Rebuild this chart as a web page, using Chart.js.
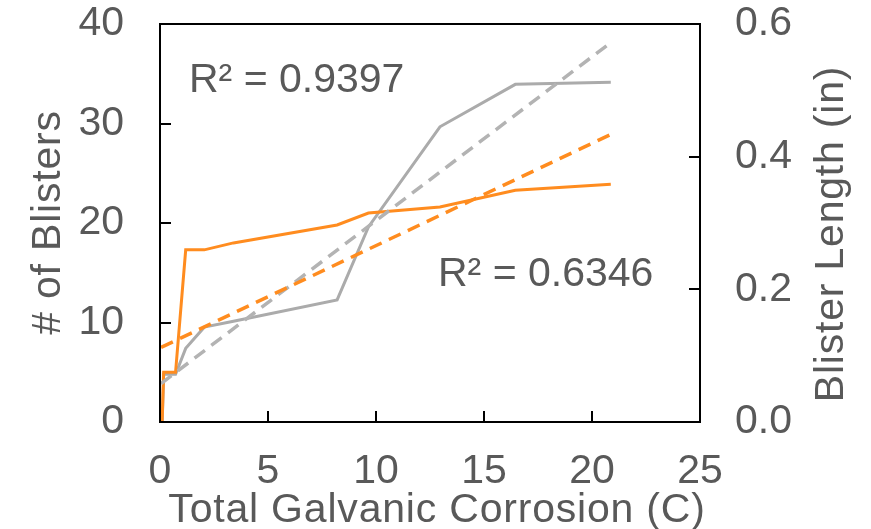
<!DOCTYPE html>
<html>
<head>
<meta charset="utf-8">
<script src="https://cdn.jsdelivr.net/npm/chart.js@4/dist/chart.umd.min.js"></script>
<style>
  html, body { margin: 0; padding: 0; background: #ffffff; }
  #wrap { width: 871px; height: 529px; }
</style>
</head>
<body>
<div id="wrap"><canvas id="c" width="871" height="529"></canvas></div>
<script>
// ---- data ----
const corrosion = [0.1, 0.17, 0.72, 1.19, 2.05, 3.4, 8.2, 9.65, 12.96, 16.45, 20.87];
const blisterCounts = [0, 5, 5, 17.3, 17.3, 18.0, 19.8, 21.0, 21.6, 23.3, 23.9];
const blisterLengths = [0, 0.072, 0.072, 0.111, 0.143, 0.152, 0.184, 0.294, 0.445, 0.509, 0.512];

const trendX = [0.05, 20.87];
const countTrend = [7.5, 28.9];
const lengthTrend = [0.058, 0.572];

const xTicks = [0, 5, 10, 15, 20, 25];
const countTicks = [0, 10, 20, 30, 40];
const lengthTicks = [0.0, 0.2, 0.4, 0.6];

const xTitle = 'Total Galvanic Corrosion (C)';
const leftTitle = '# of Blisters';
const rightTitle = 'Blister Length (in)';
const r2Length = 'R\u00B2 = 0.9397';
const r2Count = 'R\u00B2 = 0.6346';

// ---- styling ----
const TEXT = '#595959';
const ORANGE = '#FF8C1F';
const GRAY = '#ABABAB';
const GRAY_DASH = '#B3B3B3';
const FONT = "'Liberation Sans', Arial, sans-serif";
const FS = 41;

const pts = (xs, ys) => xs.map((x, i) => ({ x: x, y: ys[i] }));

const frame = {
  id: 'frame',
  afterDraw(chart) {
    const ctx = chart.ctx;
    const a = chart.chartArea;
    const sx = chart.scales.x, sy = chart.scales.y, sy1 = chart.scales.y1;
    ctx.save();
    ctx.strokeStyle = '#000000';
    ctx.lineWidth = 2;
    ctx.strokeRect(a.left, a.top, a.right - a.left, a.bottom - a.top);
    const TL = 11;
    ctx.beginPath();
    xTicks.slice(1, -1).forEach(v => {
      const p = Math.round(sx.getPixelForValue(v));
      ctx.moveTo(p, a.bottom); ctx.lineTo(p, a.bottom - TL);
    });
    countTicks.slice(1, -1).forEach(v => {
      const p = Math.round(sy.getPixelForValue(v));
      ctx.moveTo(a.left, p); ctx.lineTo(a.left + TL, p);
    });
    lengthTicks.slice(1, -1).forEach(v => {
      const p = Math.round(sy1.getPixelForValue(v));
      ctx.moveTo(a.right, p); ctx.lineTo(a.right - TL, p);
    });
    ctx.stroke();

    // texts
    ctx.fillStyle = TEXT;
    ctx.font = FS + 'px ' + FONT;
    ctx.textBaseline = 'alphabetic';
    ctx.textAlign = 'left';
    ctx.fillText(r2Length, 189, 92);
    ctx.fillText(r2Count, 438, 285.5);

    ctx.letterSpacing = '0.8px';
    ctx.textAlign = 'center';
    ctx.fillText(xTitle, 437, 521.5);

    ctx.save();
    ctx.translate(60, 222.5);
    ctx.rotate(-Math.PI / 2);
    ctx.fillText(leftTitle, 0, 0);
    ctx.restore();

    ctx.save();
    ctx.translate(843, 234);
    ctx.rotate(-Math.PI / 2);
    ctx.fillText(rightTitle, 0, 0);
    ctx.restore();
    ctx.restore();
  }
};

new Chart(document.getElementById('c'), {
  type: 'line',
  data: {
    datasets: [
      {
        label: 'Blister Length',
        data: pts(corrosion, blisterLengths),
        yAxisID: 'y1',
        borderColor: GRAY,
        borderWidth: 3,
        pointRadius: 0,
        tension: 0,
        order: 3
      },
      {
        label: '# of Blisters',
        data: pts(corrosion, blisterCounts),
        yAxisID: 'y',
        borderColor: ORANGE,
        borderWidth: 3,
        pointRadius: 0,
        tension: 0,
        order: 2
      },
      {
        label: 'Linear (Blister Length)',
        data: pts(trendX, lengthTrend),
        yAxisID: 'y1',
        borderColor: GRAY_DASH,
        borderWidth: 3.5,
        borderDash: [13, 8],
        pointRadius: 0,
        tension: 0,
        order: 1
      },
      {
        label: 'Linear (# of Blisters)',
        data: pts(trendX, countTrend),
        yAxisID: 'y',
        borderColor: ORANGE,
        borderWidth: 3.5,
        borderDash: [13, 8],
        pointRadius: 0,
        tension: 0,
        order: 0
      }
    ]
  },
  options: {
    responsive: false,
    animation: false,
    devicePixelRatio: 1,
    layout: { padding: { top: 24, left: 0, right: 0, bottom: 0 } },
    plugins: {
      legend: { display: false },
      tooltip: { enabled: false }
    },
    scales: {
      x: {
        type: 'linear',
        min: xTicks[0],
        max: xTicks[xTicks.length - 1],
        afterBuildTicks: s => { s.ticks = xTicks.map(v => ({ value: v })); },
        afterFit: s => { s.height = 107; s.paddingLeft = 0; s.paddingRight = 0; },
        grid: { display: false, drawTicks: false },
        border: { display: false },
        ticks: {
          color: TEXT, padding: 25,
          font: { family: FONT, size: FS, lineHeight: 1.2 },
          maxRotation: 0, autoSkip: false
        }
      },
      y: {
        position: 'left',
        min: countTicks[0],
        max: countTicks[countTicks.length - 1],
        afterBuildTicks: s => { s.ticks = countTicks.map(v => ({ value: v })); },
        afterFit: s => { s.width = 160; s.paddingTop = 0; s.paddingBottom = 0; },
        grid: { display: false, drawTicks: false },
        border: { display: false },
        ticks: {
          color: TEXT, padding: 36,
          font: { family: FONT, size: FS }
        }
      },
      y1: {
        position: 'right',
        min: lengthTicks[0],
        max: lengthTicks[lengthTicks.length - 1],
        afterBuildTicks: s => { s.ticks = lengthTicks.map(v => ({ value: v })); },
        afterFit: s => { s.width = 171; s.paddingTop = 0; s.paddingBottom = 0; },
        grid: { display: false, drawTicks: false },
        border: { display: false },
        ticks: {
          color: TEXT, padding: 35,
          font: { family: FONT, size: FS },
          callback: v => Number(v).toFixed(1)
        }
      }
    }
  },
  plugins: [frame]
});
</script>
</body>
</html>
